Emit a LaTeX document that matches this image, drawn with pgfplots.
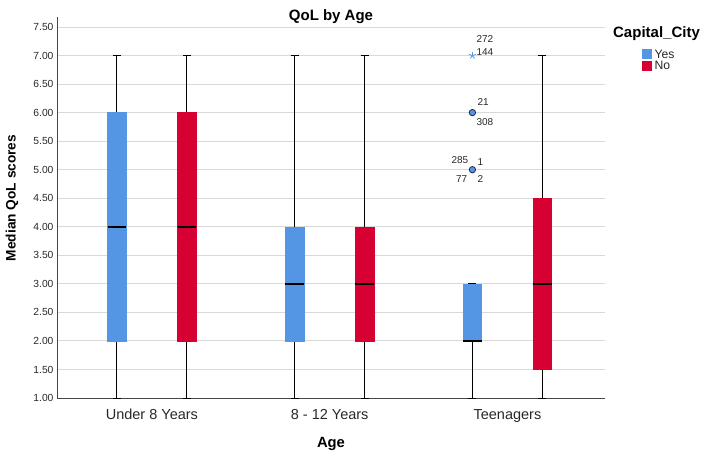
\documentclass[border=0pt]{standalone}
\usepackage{fontspec}
\setmainfont{Liberation Sans}
\usepackage{pgfplots}
\pgfplotsset{compat=1.18}
\usepgfplotslibrary{statistics}
\definecolor{cblue}{RGB}{84,150,228}
\definecolor{cred}{RGB}{214,0,50}
\definecolor{gridc}{RGB}{217,217,217}
\definecolor{axc}{RGB}{70,70,70}
\definecolor{txt}{RGB}{40,40,40}
\definecolor{mkedge}{RGB}{40,40,70}
\begin{document}
\begin{tikzpicture}[x=1pt,y=1pt]
\path[use as bounding box] (-57,-55) rectangle (648,398);
\begin{axis}[
  at={(0,0)}, anchor=south west,
  scale only axis, width=548pt, height=381pt,
  xmin=-0.534, xmax=2.549, ymin=1, ymax=7.675,
  axis x line*=bottom, axis y line*=left,
  axis line style={draw=axc, line width=0.8pt, -},
  xtick={0,1,2},
  xticklabels={Under 8 Years, 8 - 12 Years, Teenagers},
  ytick={1,1.5,2,2.5,3,3.5,4,4.5,5,5.5,6,6.5,7,7.5},
  major tick length=0pt,
  yticklabel style={font=\fontsize{10.3}{12}\selectfont, text=txt, /pgf/number format/.cd, fixed, fixed zerofill, precision=2, assume math mode=true},
  xticklabel style={font=\fontsize{14.5}{16}\selectfont, text=txt, anchor=base, yshift=-21pt},
  ymajorgrids, grid style={draw=gridc, line width=0.9pt},
  clip=false,
  title={QoL by Age},
  title style={font=\bfseries\fontsize{15}{17}\selectfont, at={(axis description cs:0.5,0.992)}, anchor=base, yshift=-6pt},
  xlabel={Age},
  xlabel style={font=\bfseries\fontsize{14.8}{17}\selectfont, at={(axis description cs:0.5,-0.131)}, anchor=base},
  ylabel={Median QoL scores},
  ylabel style={font=\bfseries\fontsize{13.7}{16}\selectfont, at={(axis description cs:-0.082,0.525)}, anchor=center},
  boxplot/draw direction=y,
  boxplot/every whisker/.style={draw=black, line width=0.9pt},
  boxplot/every median/.style={draw=black, line width=2pt},
  boxplot/box extend=0.104,
  boxplot/whisker extend=0.045,
  legend style={at={(axis description cs:1.0675,0.916)}, anchor=north west, draw=none, fill=none, inner sep=0pt, font=\fontsize{12.2}{14}\selectfont, row sep=2pt, nodes={inner sep=0pt, text height=9pt, text depth=0pt, text=txt}},
  legend cell align=left,
]
% Under 8 Years
\addplot[boxplot prepared={lower whisker=1, lower quartile=2, median=4, upper quartile=6, upper whisker=7, draw position=-0.197}, fill=cblue, draw=cblue, forget plot] coordinates {};
\addplot[boxplot prepared={lower whisker=1, lower quartile=2, median=4, upper quartile=6, upper whisker=7, draw position=0.197}, fill=cred, draw=cred, forget plot] coordinates {};
% 8 - 12 Years
\addplot[boxplot prepared={lower whisker=1, lower quartile=2, median=3, upper quartile=4, upper whisker=7, draw position=0.803}, fill=cblue, draw=cblue, forget plot] coordinates {};
\addplot[boxplot prepared={lower whisker=1, lower quartile=2, median=3, upper quartile=4, upper whisker=7, draw position=1.197}, fill=cred, draw=cred, forget plot] coordinates {};
% Teenagers
\addplot[boxplot prepared={lower whisker=1, lower quartile=2, median=2, upper quartile=3, upper whisker=3, draw position=1.803}, fill=cblue, draw=cblue, forget plot] coordinates {};
\addplot[boxplot prepared={lower whisker=1, lower quartile=1.5, median=3, upper quartile=4.5, upper whisker=7, draw position=2.197}, fill=cred, draw=cred, forget plot] coordinates {};
% outliers
\addplot[only marks, mark=*, mark size=3.2pt, mark options={fill=cblue, draw=mkedge, line width=0.8pt}, forget plot] coordinates {(1.803,5) (1.803,6)};
\addplot[only marks, mark=star, mark size=3.5pt, mark options={draw=cblue, line width=0.8pt}, forget plot] coordinates {(1.803,7)};
% legend
\addlegendimage{legend image code/.code={\fill[cblue] (0pt,-4.5pt) rectangle (9pt,4.5pt); \path (12pt,0pt);}}
\addlegendentry{Yes}
\addlegendimage{legend image code/.code={\fill[cred] (0pt,-4.5pt) rectangle (9pt,4.5pt); \path (12pt,0pt);}}
\addlegendentry{No}
\node[font=\bfseries\fontsize{15}{17}\selectfont, anchor=base, text=black] at (axis description cs:1.094,0.9475) {Capital\_City};
% outlier labels
\begin{scope}[every node/.style={font=\fontsize{10}{12}\selectfont, text=txt, inner sep=0pt}]
\node[anchor=base west, xshift=4pt, yshift=13pt] at (axis cs:1.803,7) {272};
\node[anchor=base west, xshift=4pt, yshift=0.5pt] at (axis cs:1.803,7) {144};
\node[anchor=base west, xshift=5pt, yshift=7.6pt] at (axis cs:1.803,6) {21};
\node[anchor=base west, xshift=4pt, yshift=-13.1pt] at (axis cs:1.803,6) {308};
\node[anchor=base east, xshift=-4pt, yshift=5.7pt] at (axis cs:1.803,5) {285};
\node[anchor=base west, xshift=5pt, yshift=4pt] at (axis cs:1.803,5) {1};
\node[anchor=base east, xshift=-5pt, yshift=-13pt] at (axis cs:1.803,5) {77};
\node[anchor=base west, xshift=5pt, yshift=-13pt] at (axis cs:1.803,5) {2};
\end{scope}
\end{axis}
\end{tikzpicture}
\end{document}
